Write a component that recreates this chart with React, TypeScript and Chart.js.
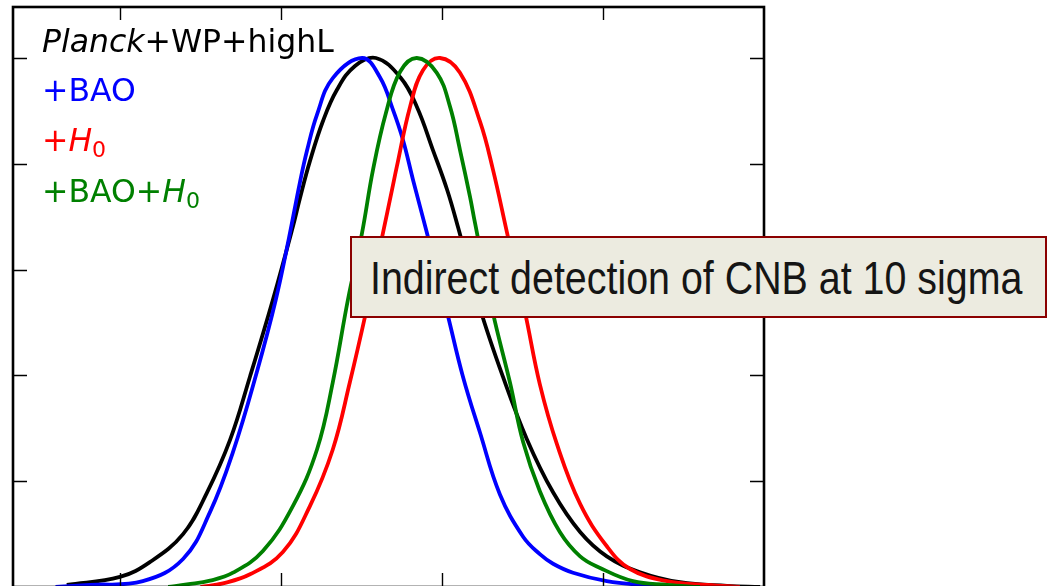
import React, { useEffect, useRef } from "react";
import { Chart, registerables } from "chart.js";

Chart.register(...registerables);

// Axis tick positions (no labels are drawn, only inward tick marks)
const xTickValues = [2.5, 3.0, 3.5, 4.0];
const yTickValues = [0.2, 0.4, 0.6, 0.8, 1.0];
const xRange = [2.168, 4.5];
const yRange = [0, 1.0964];

// Planck+WP+highL
const blackX = [2.335, 2.5, 2.593, 2.696, 2.77, 2.842, 2.904, 2.975, 3.037, 3.059, 3.09, 3.13, 3.174, 3.23, 3.295, 3.37, 3.422, 3.472, 3.516, 3.55, 3.618, 3.689, 3.764, 3.845, 3.929, 4.012, 4.115, 4.239, 4.385, 4.488];
const blackY = [0.004, 0.019, 0.047, 0.1, 0.178, 0.278, 0.398, 0.543, 0.681, 0.735, 0.805, 0.88, 0.94, 0.985, 1.0, 0.964, 0.908, 0.826, 0.751, 0.68, 0.527, 0.398, 0.279, 0.179, 0.104, 0.058, 0.028, 0.009, 0.002, 0.0];

// +BAO
const blueX = [2.3, 2.407, 2.571, 2.696, 2.78, 2.851, 2.925, 2.984, 3.025, 3.059, 3.081, 3.112, 3.161, 3.252, 3.307, 3.348, 3.379, 3.41, 3.453, 3.516, 3.565, 3.618, 3.68, 3.752, 3.804, 3.845, 3.907, 4.012, 4.115, 4.239];
const blueY = [0.0, 0.004, 0.011, 0.053, 0.142, 0.255, 0.406, 0.543, 0.66, 0.765, 0.825, 0.893, 0.962, 1.0, 0.964, 0.902, 0.845, 0.77, 0.67, 0.519, 0.398, 0.292, 0.175, 0.095, 0.062, 0.044, 0.027, 0.011, 0.004, 0.0];

// +H0
const redX = [2.75, 2.82, 2.904, 3.006, 3.09, 3.161, 3.214, 3.264, 3.317, 3.345, 3.36, 3.401, 3.441, 3.494, 3.556, 3.618, 3.658, 3.702, 3.758, 3.804, 3.857, 3.929, 4.012, 4.084, 4.199, 4.323, 4.425];
const redY = [0.0, 0.007, 0.024, 0.066, 0.153, 0.26, 0.387, 0.519, 0.67, 0.751, 0.795, 0.908, 0.977, 1.0, 0.972, 0.88, 0.79, 0.67, 0.519, 0.383, 0.27, 0.157, 0.077, 0.034, 0.011, 0.004, 0.0];

// +BAO+H0
const greenX = [2.65, 2.708, 2.78, 2.851, 2.944, 3.037, 3.112, 3.161, 3.208, 3.252, 3.286, 3.326, 3.37, 3.422, 3.484, 3.525, 3.556, 3.587, 3.602, 3.658, 3.711, 3.752, 3.804, 3.866, 3.929, 3.991, 4.093, 4.199, 4.301];
const greenY = [0.0, 0.005, 0.012, 0.027, 0.068, 0.153, 0.26, 0.387, 0.543, 0.67, 0.789, 0.896, 0.974, 1.0, 0.972, 0.908, 0.826, 0.738, 0.69, 0.519, 0.387, 0.274, 0.181, 0.104, 0.058, 0.036, 0.011, 0.004, 0.0];

const toPoints = (xs: number[], ys: number[]) => xs.map((x, i) => ({ x, y: ys[i] }));

const framePlugin = {
  id: "frameTicks",
  afterDraw(chart: any) {
    const { ctx, chartArea, scales } = chart;
    const { left, right, top, bottom } = chartArea;
    const xs = scales.x;
    const ys = scales.y;
    ctx.save();
    ctx.strokeStyle = "#000";
    ctx.lineWidth = 1.4;
    ctx.beginPath();
    for (const v of xTickValues) {
      const px = Math.round(xs.getPixelForValue(v)) + 0.5;
      ctx.moveTo(px, bottom);
      ctx.lineTo(px, bottom - 14);
      ctx.moveTo(px, top);
      ctx.lineTo(px, top + 13);
    }
    for (const v of yTickValues) {
      const py = Math.round(ys.getPixelForValue(v)) + 0.5;
      ctx.moveTo(left, py);
      ctx.lineTo(left + 14, py);
      ctx.moveTo(right, py);
      ctx.lineTo(right - 14, py);
    }
    ctx.stroke();
    ctx.lineWidth = 2.6;
    ctx.strokeRect(left, top, right - left, bottom - top);
    ctx.restore();
  },
};

const legendFont = '"DejaVu Sans", sans-serif';
const subStyle: React.CSSProperties = { fontSize: "0.7em", position: "relative", top: "0.25em" };

const legendRows: { top: number; content: React.ReactNode }[] = [
  {
    top: 26,
    content: (
      <span style={{ color: "#000" }}>
        <i>Planck</i>+WP+highL
      </span>
    ),
  },
  { top: 75, content: <span style={{ color: "#0000ff" }}>+BAO</span> },
  {
    top: 125,
    content: (
      <span style={{ color: "#ff0000" }}>
        +<i>H</i>
        <span style={subStyle}>0</span>
      </span>
    ),
  },
  {
    top: 176,
    content: (
      <span style={{ color: "#008000" }}>
        +BAO+<i>H</i>
        <span style={subStyle}>0</span>
      </span>
    ),
  },
];

export default function App() {
  const canvasRef = useRef<HTMLCanvasElement | null>(null);

  useEffect(() => {
    const canvas = canvasRef.current;
    if (!canvas) return;
    const line = (data: { x: number; y: number }[], color: string) => ({
      data,
      borderColor: color,
      backgroundColor: color,
      borderWidth: 3.8,
      pointRadius: 0,
      fill: false,
      tension: 0.4,
    });
    const chart = new Chart(canvas, {
      type: "line",
      data: {
        datasets: [
          line(toPoints(greenX, greenY), "#008000"),
          line(toPoints(redX, redY), "#ff0000"),
          line(toPoints(blueX, blueY), "#0000ff"),
          line(toPoints(blackX, blackY), "#000000"),
        ],
      },
      options: {
        responsive: false,
        animation: false,
        devicePixelRatio: 1,
        layout: { padding: { left: 13, top: 7, right: 292, bottom: 13 } },
        scales: {
          x: { type: "linear", display: false, min: xRange[0], max: xRange[1] },
          y: { type: "linear", display: false, min: yRange[0], max: yRange[1] },
        },
        plugins: {
          legend: { display: false },
          tooltip: { enabled: false },
        },
      },
      plugins: [framePlugin],
    });
    return () => chart.destroy();
  }, []);

  return (
    <div
      style={{
        position: "fixed",
        left: 0,
        top: 0,
        width: 1056,
        height: 586,
        overflow: "hidden",
        background: "#fff",
      }}
    >
      <canvas ref={canvasRef} width={1056} height={600} style={{ display: "block" }} />
      {legendRows.map((row, i) => (
        <div
          key={i}
          style={{
            position: "absolute",
            left: 42,
            top: row.top,
            fontFamily: legendFont,
            fontSize: 31.5,
            lineHeight: 1,
            whiteSpace: "nowrap",
          }}
        >
          {row.content}
        </div>
      ))}
      <div
        style={{
          position: "absolute",
          left: 350,
          top: 236,
          width: 697,
          height: 82,
          boxSizing: "border-box",
          border: "2px solid #8b0000",
          background: "#ecebe0",
          overflow: "hidden",
        }}
      >
        <div
          style={{
            position: "absolute",
            left: 18,
            top: 0,
            height: 78,
            display: "flex",
            alignItems: "center",
            fontFamily: '"Liberation Sans", Arial, sans-serif',
            fontSize: 47,
            color: "#151515",
            whiteSpace: "nowrap",
            transform: "scaleX(0.838)",
            transformOrigin: "left center",
          }}
        >
          Indirect detection of CNB at 10 sigma
        </div>
      </div>
    </div>
  );
}
